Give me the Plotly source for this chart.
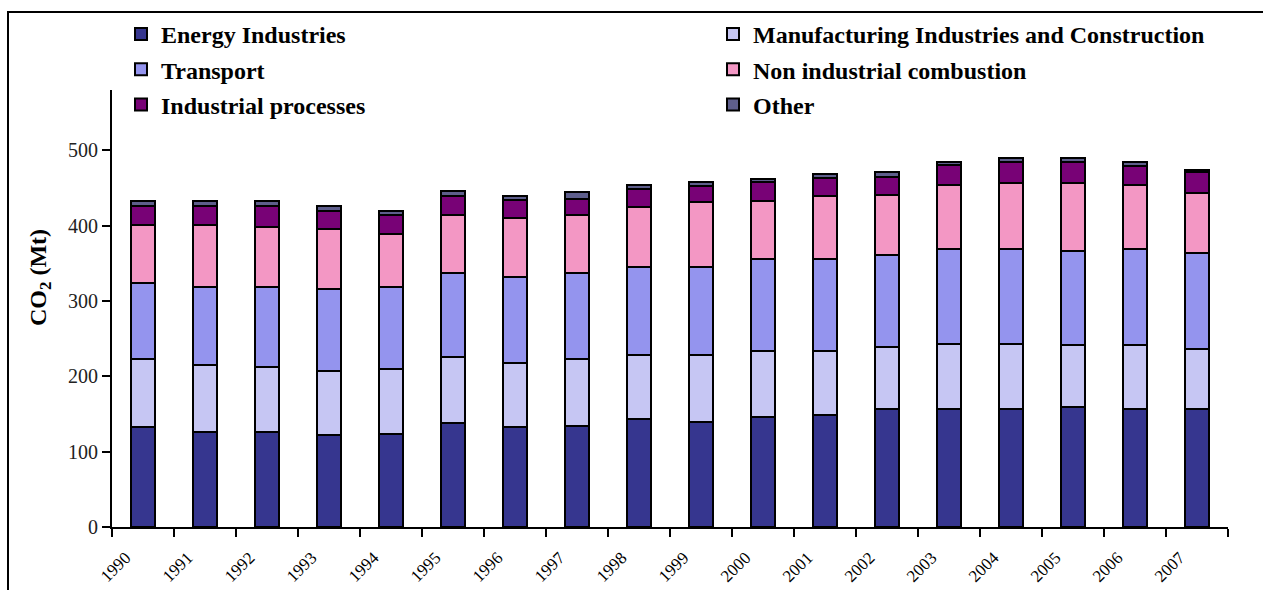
import plotly.graph_objects as go

# CO2 emissions by source sector (Mt), 1990-2007
years = [str(y) for y in range(1990, 2008)]

energy_industries = [133.0, 126.6, 126.6, 122.0, 123.5, 137.7, 133.2, 134.5, 143.8,
                     139.8, 146.5, 148.7, 157.1, 157.1, 157.1, 159.8, 157.1, 157.1]
manufacturing = [90.0, 88.4, 85.4, 85.6, 86.3, 88.5, 85.0, 88.5, 85.0,
                 88.6, 87.6, 85.4, 82.3, 85.5, 85.5, 81.9, 84.6, 79.3]
transport = [101.5, 103.3, 107.0, 108.0, 109.2, 111.5, 113.8, 114.7, 116.9,
             117.3, 121.4, 122.2, 122.2, 126.6, 127.0, 124.8, 127.0, 127.0]
non_industrial = [76.0, 82.7, 79.4, 80.1, 70.0, 76.6, 77.5, 76.6, 79.3,
                  86.3, 77.4, 82.4, 78.9, 85.3, 87.2, 90.3, 85.0, 79.3]
industrial_processes = [25.7, 25.6, 27.6, 23.9, 25.3, 24.4, 23.9, 21.3, 23.9,
                        20.8, 24.8, 23.9, 24.7, 25.4, 27.0, 27.0, 26.1, 27.9]
other = [6.7, 6.4, 7.0, 5.8, 5.3, 7.9, 5.3, 8.4, 5.3,
         4.9, 4.4, 5.8, 5.4, 4.0, 5.8, 5.8, 4.0, 2.7]

y_ticks = [0, 100, 200, 300, 400, 500]

series = [
    ("Energy Industries", energy_industries, "#36368f", "legend"),
    ("Manufacturing Industries and Construction", manufacturing, "#c6c6f3", "legend2"),
    ("Transport", transport, "#9494ee", "legend"),
    ("Non industrial combustion", non_industrial, "#f397c4", "legend2"),
    ("Industrial processes", industrial_processes, "#780276", "legend"),
    ("Other", other, "#5e5e8c", "legend2"),
]

n = len(years)
# bars sit in the middle of each year slot; slot edges carry the tick marks
bar_x = [i + 0.5 for i in range(n)]
label_x = [i + 0.22 for i in range(n)]
edge_x = list(range(n + 1))

FONT = "Liberation Serif, Times New Roman, serif"

fig = go.Figure()
for k, (name, values, color, leg) in enumerate(series):
    fig.add_trace(go.Bar(
        x=bar_x, y=values, name=name, width=0.38,
        marker=dict(color=color, line=dict(color="black", width=2)),
        legend=leg, legendgroup=str(k),
    ))

# frame around the whole chart
W, H = 1263, 590
L, R, T, B = 112, 35, 90, 63
pw, ph = W - L - R, H - T - B
fig.add_shape(type="rect", xref="paper", yref="paper", layer="below",
              x0=(8 - L) / pw, x1=(W + 20 - L) / pw,
              y0=-(B + 20) / ph, y1=(H - B - 12) / ph,
              line=dict(color="black", width=2), fillcolor="rgba(0,0,0,0)")

# y-axis title
fig.add_annotation(xref="paper", yref="paper", x=(40 - L) / pw, y=(H - B - 278) / ph,
                   text="CO<sub>2</sub> (Mt)", textangle=-90, showarrow=False,
                   xanchor="center", yanchor="middle",
                   font=dict(family=FONT, size=24, color="black", weight="bold"))

legend_common = dict(
    orientation="v", xanchor="left", yanchor="top",
    traceorder="grouped", tracegroupgap=1,
    font=dict(family=FONT, size=24, color="black", weight="bold"),
    bgcolor="rgba(0,0,0,0)", borderwidth=0,
)

fig.update_layout(
    width=W, height=H,
    margin=dict(l=L, r=R, t=T, b=B),
    paper_bgcolor="white", plot_bgcolor="white",
    barmode="stack",
    font=dict(family=FONT, color="black"),
    legend=dict(x=(121 - L) / pw, y=(H - B - 12) / ph, **legend_common),
    legend2=dict(x=(713 - L) / pw, y=(H - B - 12) / ph, **legend_common),
    xaxis=dict(
        range=[0, n], showgrid=False, zeroline=False, automargin=False,
        showline=True, linecolor="black", linewidth=2,
        tickmode="array", tickvals=label_x, ticktext=years, ticks="",
        tickangle=-45, ticklabelstandoff=12,
        tickfont=dict(family=FONT, size=17, color="black"),
        minor=dict(tickmode="array", tickvals=edge_x, ticks="outside",
                   ticklen=8, tickwidth=2, tickcolor="black", showgrid=False),
    ),
    yaxis=dict(
        range=[0, 580], showgrid=False, zeroline=False, automargin=False,
        showline=True, linecolor="black", linewidth=2,
        tickmode="array", tickvals=y_ticks,
        ticks="outside", ticklen=8, tickwidth=2, tickcolor="black",
        tickfont=dict(family=FONT, size=20, color="#222222"),
    ),
)

fig.write_html("out.html")
